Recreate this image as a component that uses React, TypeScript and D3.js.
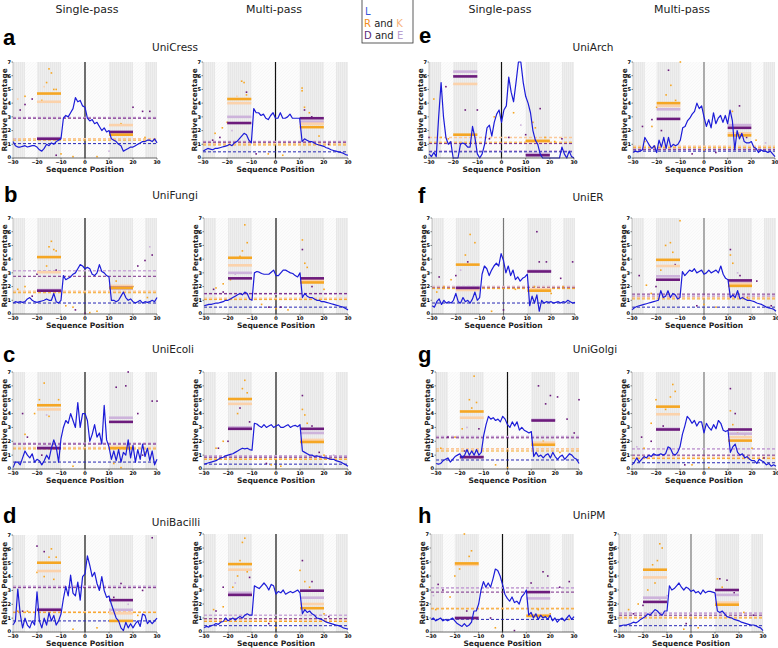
import React from 'react';
import * as d3 from 'd3';

// sequence positions and axes
const positions = d3.range(-30, 31);
const xTicks = [-30, -20, -10, 0, 10, 20, 30];
const yTicks = [0, 1, 2, 3, 4, 5, 6, 7];
const bands = [[-30, -25], [-20, -10], [10, 20], [25, 30]];
const columnHeads = ['Single-pass', 'Multi-pass', 'Single-pass', 'Multi-pass'];
const letters = ['a', 'b', 'c', 'd', 'e', 'f', 'g', 'h'];
const titles = ['UniCress', 'UniFungi', 'UniEcoli', 'UniBacilli', 'UniArch', 'UniER', 'UniGolgi', 'UniPM'];

// L (leucine) percentage per position, -30..30
const cressSingleL = [1.2,0.9,0.8,0.8,0.85,0.9,0.8,0.85,0.9,0.9,0.8,0.6,0.5,0.7,1.0,0.9,1.1,1.0,1.2,1.3,1.4,2.9,3.1,3.0,3.3,3.6,4.4,4.1,4.2,3.8,3.7,2.9,2.7,2.8,2.5,2.6,2.3,2.0,2.2,1.9,2.0,1.4,1.3,1.2,1.0,0.9,0.5,0.6,0.7,0.8,0.8,0.9,1.0,1.1,1.2,1.2,1.3,1.3,1.2,1.4,1.1];
const cressMultiL = [0.5,0.6,0.7,0.65,0.6,0.7,0.7,0.75,0.8,0.85,0.9,1.0,0.9,1.1,1.2,1.4,1.6,1.8,1.7,1.3,1.1,3.6,3.3,3.3,3.1,3.2,2.9,2.8,3.1,3.3,2.9,2.9,3.3,2.9,2.9,3.0,3.2,2.9,2.9,2.9,2.9,1.2,1.4,1.3,1.2,1.2,1.1,1.0,0.95,0.9,0.85,0.75,0.7,0.6,0.55,0.5,0.45,0.4,0.35,0.25,0.2];
const fungiSingleL = [0.8,0.9,0.85,0.9,0.85,0.9,1.1,1.2,1.0,0.9,0.85,0.9,0.95,1.0,1.1,1.0,1.0,1.5,0.9,0.8,1.0,2.8,2.5,2.6,2.7,2.9,3.0,3.3,3.6,3.5,3.3,3.4,3.3,2.9,2.8,3.0,3.6,3.1,3.0,2.8,2.7,1.0,1.0,0.9,1.0,1.3,1.6,1.2,1.0,1.1,0.9,0.8,0.9,1.0,0.8,0.9,0.85,0.9,1.0,0.9,1.2];
const fungiMultiL = [0.6,0.65,0.7,0.7,0.75,0.8,0.8,0.85,0.9,1.0,1.0,1.1,1.2,1.3,1.4,1.5,1.4,1.6,1.5,1.1,1.0,3.0,3.1,3.05,2.95,2.9,2.9,2.9,3.05,3.2,2.8,2.8,3.0,3.2,3.2,3.1,3.0,2.95,2.8,2.7,3.0,1.2,1.5,1.3,1.2,1.2,1.1,1.0,1.0,0.9,0.9,0.85,0.8,0.75,0.7,0.65,0.6,0.55,0.5,0.4,0.3];
const ecoliSingleL = [0.1,0.5,0.5,0.3,0.8,1.3,1.0,0.8,1.1,0.5,0.7,0.6,0.3,0.6,1.0,0.7,1.5,2.1,1.6,0.5,2.2,3.0,3.5,3.3,4.0,3.5,3.0,4.8,3.0,4.0,4.0,3.5,2.0,2.5,3.2,2.3,2.6,1.8,4.6,2.1,1.6,0.7,1.3,0.6,1.4,0.5,1.2,1.0,2.1,0.8,1.7,0.5,1.4,0.7,1.8,0.9,1.5,0.6,1.3,0.3,0.7];
const ecoliMultiL = [0.35,0.4,0.45,0.5,0.55,0.6,0.7,0.8,0.85,0.95,1.0,1.05,1.1,1.2,1.3,1.4,1.5,1.45,1.5,1.4,1.35,3.3,3.25,3.1,3.0,3.2,3.0,3.1,3.2,3.0,3.1,3.2,3.0,3.0,3.1,3.2,3.0,3.1,3.15,3.05,3.2,1.3,1.2,1.1,1.0,1.0,0.9,0.95,0.9,0.85,0.8,0.8,0.75,0.7,0.7,0.6,0.55,0.5,0.4,0.3,0.2];
const bacilliSingleL = [0.5,0.8,3.1,1.3,0.3,1.0,0.5,0.3,0.8,0.5,2.9,0.8,0.3,1.0,0.5,1.4,0.8,1.2,0.5,0.8,1.3,2.4,3.3,2.6,4.1,2.8,2.6,3.6,2.3,4.0,4.2,5.5,4.8,4.0,4.3,3.5,3.0,4.0,3.0,2.5,2.6,2.0,1.5,1.0,0.8,0.3,0.1,0.7,0.3,0.6,0.3,0.6,0.8,0.4,1.3,1.2,0.6,0.8,0.6,0.8,1.0];
const bacilliMultiL = [0.3,0.4,0.35,0.45,0.5,0.6,0.55,0.7,0.75,1.0,0.8,0.9,1.0,0.85,1.0,1.1,1.0,1.2,1.3,1.2,1.2,3.3,3.2,3.1,3.3,3.5,3.3,3.0,3.4,3.3,2.7,2.9,2.8,3.0,2.7,2.8,2.9,2.8,2.9,3.0,2.8,1.3,1.6,1.4,1.5,1.3,1.2,1.0,0.95,0.9,0.8,0.7,0.65,0.6,0.55,0.5,0.45,0.4,0.3,0.25,0.2];
const archSingleL = [0.3,0.1,0.4,0.1,3.0,5.5,3.0,1.5,1.0,1.2,0,0,0,1.0,1.1,1.0,0.8,0.8,2.3,1.5,0.3,0,0.3,1.0,2.2,2.4,1.6,2.6,3.2,3.5,2.6,3.5,3.8,5.9,4.8,4.1,5.5,7.0,7.0,5.5,4.5,4.0,3.3,2.0,1.3,1.0,0.3,0,0,0,0,0,0,0,0,0.8,0.3,0,0.5,0.1,0];
const archMultiL = [0.4,0.5,0.45,0.5,0.6,1.5,1.2,0.9,0.7,0.9,0.4,1.3,0.8,1.5,0.7,1.5,0.8,1.0,0.9,1.0,1.3,2.2,2.3,2.7,2.9,3.2,3.4,4.0,3.6,3.8,3.0,2.3,2.8,2.2,3.3,2.5,2.9,3.1,2.6,3.1,2.5,3.5,2.7,0.6,2.0,1.4,1.8,1.2,1.1,1.1,1.2,0.8,0.7,0.4,0.6,0.5,0.5,0.4,0.5,0.3,0.1];
const erSingleL = [0.6,0.5,0.9,1.1,0.7,1.0,0.8,0.9,0.8,1.0,1.5,0.9,0.8,1.2,0.9,1.0,0.8,1.1,1.6,1.0,1.2,2.9,3.5,3.3,2.8,3.2,3.5,3.7,3.5,4.4,3.9,3.0,3.5,2.8,3.2,2.5,2.7,2.4,2.6,2.7,2.9,0.6,1.3,0.8,1.4,0.2,1.0,0.8,0.9,0.85,0.9,0.8,0.85,0.9,0.8,0.9,0.85,1.0,0.9,0.8,0.85];
const erMultiL = [0.3,0.45,0.55,0.6,0.65,0.7,0.75,0.8,0.85,0.9,0.95,1.0,1.7,1.2,1.3,1.7,1.2,1.5,1.4,1.1,1.2,3.1,2.8,3.0,3.2,3.1,3.3,3.0,3.1,3.2,2.9,3.0,3.2,3.0,3.1,3.2,3.0,3.5,2.9,2.6,2.5,1.2,1.4,1.2,1.7,1.1,1.2,1.1,1.0,1.0,0.95,0.9,0.8,0.75,0.7,0.6,0.5,0.45,0.4,0.35,0.2];
const golgiSingleL = [0.4,0.35,0.4,0.6,0.7,0.8,0.5,0.7,0.9,1.0,1.1,0.8,1.0,1.4,1.0,1.3,1.0,1.4,1.0,1.2,2.4,3.2,3.8,3.6,3.7,3.5,3.6,3.4,3.8,3.6,3.2,3.0,3.4,3.1,3.4,2.8,3.0,2.8,2.7,2.6,2.7,0.9,1.2,0.9,1.0,0.8,1.0,1.1,0.8,1.2,0.9,0.7,0.9,1.0,0.7,0.9,1.1,1.0,0.8,0.7,0.4];
const golgiMultiL = [0.3,0.5,0.8,0.5,0.7,0.9,0.8,1.0,0.9,1.1,1.0,1.0,1.1,1.0,1.1,1.6,1.5,1.1,1.0,1.2,1.6,2.5,3.1,3.8,3.6,3.3,3.5,3.1,3.4,3.4,2.6,3.3,3.0,2.8,3.2,2.9,3.5,3.3,2.8,2.7,2.8,1.2,1.6,1.8,1.2,1.0,1.1,0.8,0.9,0.7,0.6,0.6,0.4,0.7,0.6,0.5,0.3,0.4,0.2,0.3,0.2];
const pmSingleL = [0.9,1.0,0.8,0.9,1.0,0.8,0.9,0.8,0.9,1.0,0.8,0.6,0.5,0.4,0.6,0.4,0.5,0.7,1.5,1.5,2.0,3.0,3.6,3.2,3.5,3.2,3.8,4.5,4.4,4.0,3.4,2.7,2.4,2.2,2.5,2.1,2.2,2.0,2.5,2.7,3.0,1.2,1.4,1.0,1.3,0.9,1.2,1.0,1.1,0.9,1.2,0.8,1.0,0.7,0.9,1.0,0.8,1.0,1.2,0.9,1.1];
const pmMultiL = [0.4,0.45,0.5,0.5,0.55,0.6,0.7,0.65,0.75,0.9,1.0,1.1,1.3,1.2,1.4,1.6,1.5,1.3,1.2,1.5,1.5,3.3,3.0,3.1,3.3,3.5,3.2,3.0,3.2,3.1,2.9,3.0,2.8,2.9,2.7,3.0,2.8,2.9,2.9,2.85,2.8,1.5,1.4,1.5,1.3,1.1,1.05,1.0,0.9,0.85,0.8,0.7,0.65,0.6,0.55,0.5,0.5,0.45,0.35,0.3,0.1];

// region averages: R, K, D, E over -20..-10, then R, K, D, E over 10..20
const cressSingleSeg = [4.7, 4.1, 1.4, 1.45, 1.7, 2.4, 1.9, 1.85];
const cressMultiSeg = [4.3, 4.0, 2.55, 3.0, 2.25, 2.5, 2.9, 2.65];
const fungiSingleSeg = [4.15, 3.05, 1.7, 1.75, 1.9, 2.05, 1.9, 2.0];
const fungiMultiSeg = [4.1, 3.55, 2.6, 3.0, 2.3, 2.45, 2.6, 2.5];
const ecoliSingleSeg = [4.6, 4.3, 1.5, 1.6, 1.5, 1.6, 3.4, 3.7];
const ecoliMultiSeg = [5.05, 4.7, 2.9, 3.0, 1.95, 2.1, 2.9, 2.6];
const bacilliSingleSeg = [5.0, 4.4, 1.6, 1.65, 0.8, 1.35, 2.3, 1.6];
const bacilliMultiSeg = [4.85, 4.45, 2.65, 2.8, 1.7, 2.0, 2.95, 2.45];
const archSingleSeg = [1.7, 5.4, 5.95, 6.3, 1.25, 1.2, 0.2, 0.3];
const archMultiSeg = [4.0, 3.8, 2.85, 3.55, 1.65, 1.8, 2.2, 2.4];
const erSingleSeg = [3.6, 1.75, 1.9, 1.95, 1.7, 1.8, 3.1, 3.15];
const erMultiSeg = [3.95, 3.5, 2.5, 2.75, 2.05, 2.2, 2.45, 2.3];
const golgiSingleSeg = [4.15, 3.7, 0.85, 0.9, 1.75, 1.9, 3.5, 3.55];
const golgiMultiSeg = [4.5, 3.95, 2.85, 2.9, 2.05, 2.3, 2.85, 2.55];
const pmSingleSeg = [4.9, 4.8, 1.0, 1.0, 1.15, 1.2, 2.85, 2.4];
const pmMultiSeg = [4.45, 3.9, 2.15, 2.45, 1.95, 2.1, 3.0, 2.65];

// background averages: L, R, K, D, E
const cressSingleBase = [1.05, 1.3, 1.4, 2.9, 2.95];
const cressMultiBase = [0.45, 0.95, 1.05, 1.15, 1.2];
const fungiSingleBase = [0.8, 1.55, 1.65, 2.75, 3.15];
const fungiMultiBase = [0.5, 1.05, 1.15, 1.5, 1.45];
const ecoliSingleBase = [0.5, 1.45, 1.55, 1.8, 1.85];
const ecoliMultiBase = [0.35, 0.7, 0.75, 0.85, 0.95];
const bacilliSingleBase = [0.8, 1.4, 1.45, 3.2, 3.3];
const bacilliMultiBase = [0.45, 0.75, 0.85, 0.95, 1.2];
const archSingleBase = [0.45, 1.15, 1.5, 1.05, 0.5];
const archMultiBase = [0.5, 0.75, 0.85, 0.6, 0.65];
const erSingleBase = [0.8, 1.85, 1.95, 1.9, 2.0];
const erMultiBase = [0.5, 1.1, 1.2, 1.45, 1.3];
const golgiSingleBase = [0.65, 1.3, 1.45, 2.25, 2.35];
const golgiMultiBase = [0.45, 0.75, 0.85, 1.0, 1.45];
const pmSingleBase = [0.9, 1.65, 1.7, 2.85, 3.15];
const pmMultiBase = [0.45, 1.0, 1.05, 1.2, 1.35];

// single-position points: [position, percentage, residue 0=R 1=K 2=D 3=E]
const cressSingleDots = [[-15,6.5,0],[-14,6.2,0],[-16,5.5,0],[-13,5.0,0],[-17,5.2,1],[-12,5.0,0],[-18,4.2,0],[-28,4.3,1],[-25,4.5,0],[-10,0.3,0],[-5,0.1,0],[5,0.1,0],[15,2.5,0],[25,1.5,0],[-22,4.3,2],[-25,3.9,2],[-27,3.5,2],[20,3.7,2],[24,3.4,2],[27,3.4,2],[-12,0.2,2],[10,0.5,3],[-29,1.4,3]];
const cressMultiDots = [[-14,5.6,0],[-13,5.5,0],[-12,4.6,0],[-16,4.5,1],[11,5.1,0],[11,4.9,0],[12,3.7,0],[14,3.3,0],[-25,1.8,0],[-22,2.2,0],[-20,2.6,0],[18,1.6,0],[-3,0.3,0],[3,0.2,0],[-12,4.8,2],[12,3.5,2],[15,3.0,2],[-23,1.5,2],[-26,1.3,2],[22,1.0,2],[-8,0.3,2],[-18,2.0,3]];
const fungiSingleDots = [[-14,5.3,0],[-15,4.9,0],[-13,4.7,0],[-12,4.6,0],[-16,3.5,0],[-28,1.8,0],[-25,2.0,0],[-8,0.6,0],[-5,0.5,0],[2,0.1,0],[5,0.2,0],[13,2.4,0],[20,2.0,0],[26,1.2,0],[-12,3.2,2],[-20,2.9,2],[25,3.9,2],[28,4.3,2],[22,3.5,2],[-4,0.3,2],[0,0.05,2],[-22,1.3,2],[27,4.9,3]];
const fungiMultiDots = [[-13,6.5,0],[-12,5.2,0],[-14,4.6,0],[-15,4.2,0],[11,5.4,0],[12,3.7,0],[13,3.4,0],[-22,2.2,0],[-19,2.5,0],[-25,1.9,0],[-6,0.7,0],[0,0.4,0],[5,0.3,0],[20,1.8,0],[11,4.7,2],[-11,3.0,2],[-26,1.8,2],[-22,1.6,2],[15,2.0,2],[-3,0.5,2],[2,0.5,2],[-17,2.9,3]];
const ecoliSingleDots = [[-17,6.2,0],[-19,5.0,0],[-21,4.0,0],[-15,3.8,0],[-11,5.0,0],[-25,2.5,0],[-5,0.2,0],[15,0.1,0],[25,1.2,0],[12,0.4,0],[-26,4.0,2],[-24,2.3,2],[13,5.9,2],[17,6.0,2],[22,4.0,2],[28,4.9,2],[30,4.9,2],[18,7.0,2],[-18,1.0,2],[-22,1.0,2],[24,1.0,2],[-16,3.9,3]];
const ecoliMultiDots = [[-13,6.4,0],[-14,5.8,0],[-12,5.5,0],[-16,4.0,0],[-18,3.0,0],[11,4.3,0],[12,3.9,0],[13,3.3,0],[-22,2.0,0],[-25,1.5,0],[-2,0.3,0],[2,0.2,0],[20,1.0,0],[11,5.3,2],[-11,3.4,2],[-15,4.4,2],[-24,1.5,2],[-20,2.0,2],[15,3.1,2],[18,1.2,2],[-4,0.4,2],[24,1.0,3]];
const bacilliSingleDots = [[-14,6.0,0],[-15,5.4,0],[-12,5.4,0],[-20,4.3,0],[-17,4.0,0],[-13,3.8,0],[-28,1.5,0],[-24,1.5,0],[-5,0.2,0],[5,0.3,0],[15,0.8,0],[22,1.2,0],[-20,6.2,2],[-17,5.8,2],[28,6.8,2],[24,3.0,2],[12,2.5,2],[15,3.5,2],[-3,3.3,2],[-26,1.5,2],[18,2.0,3]];
const bacilliMultiDots = [[-13,6.7,0],[-14,6.4,0],[-15,5.1,0],[-16,4.0,0],[-12,4.3,0],[-18,3.2,0],[10,4.4,0],[12,3.6,0],[14,3.2,0],[-22,1.8,0],[-26,1.6,0],[0,0.3,0],[20,1.3,0],[11,5.1,2],[15,3.6,2],[-11,3.9,2],[-22,3.2,2],[-25,1.5,2],[-3,0.6,2],[22,1.1,2],[-17,3.5,3]];
const archSingleDots = [[-28,4.3,0],[-25,1.5,0],[-22,1.4,0],[5,3.3,0],[13,2.6,0],[14,2.2,0],[18,1.5,0],[22,1.2,0],[-3,3.0,0],[-23,5.2,2],[-10,3.5,2],[-15,3.5,2],[-5,1.4,2],[3,1.5,2],[16,3.6,2],[10,1.7,2],[25,1.4,2],[-30,1.5,2],[8,2.4,3]];
const archMultiDots = [[-20,3.7,0],[-16,4.6,0],[-14,5.3,0],[-12,4.2,0],[-10,7.0,0],[-22,2.3,0],[-25,1.2,0],[12,3.4,0],[15,1.5,0],[22,1.3,0],[0,0.6,0],[-15,6.4,2],[-22,2.8,2],[-26,2.3,2],[15,3.8,2],[-18,2.0,2],[18,1.5,2],[5,0.4,2],[-5,0.3,2],[26,1.1,3]];
const erSingleDots = [[-14,5.8,0],[-12,5.2,0],[-16,4.3,0],[-22,2.5,0],[-25,2.0,0],[-28,1.6,0],[5,1.8,0],[13,2.0,0],[20,1.5,0],[25,2.0,0],[-5,0.2,0],[14,6.0,2],[-15,3.8,2],[-27,2.7,2],[15,3.8,2],[18,3.8,2],[29,3.8,2],[-20,2.8,2],[24,2.6,2],[0,0.3,2],[-18,3.2,3]];
const erMultiDots = [[-10,6.8,0],[-14,5.2,0],[-16,5.0,0],[-13,4.5,0],[-18,3.2,0],[11,4.3,0],[12,3.7,0],[-24,2.1,0],[-22,1.5,0],[18,1.2,0],[0,0.7,0],[5,0.5,0],[11,4.7,2],[-12,3.6,2],[-27,2.8,2],[-20,2.0,2],[15,2.8,2],[22,2.4,2],[-3,0.6,2],[28,0.6,2],[14,3.0,3]];
const golgiSingleDots = [[-14,6.7,0],[-16,5.0,0],[-13,4.8,0],[-15,4.4,0],[-19,2.9,0],[-22,2.3,0],[-28,1.5,0],[15,2.0,0],[-5,0.3,0],[0,0.1,0],[22,1.2,0],[13,6.0,2],[18,5.3,2],[21,5.2,2],[30,5.0,2],[16,4.7,2],[-25,2.3,2],[-12,2.9,2],[25,3.6,2],[-18,1.3,2],[28,2.6,2],[-17,3.0,3]];
const golgiMultiDots = [[-13,6.1,0],[-12,5.6,0],[-14,5.2,0],[-16,4.3,0],[-20,5.0,0],[-22,3.3,0],[11,4.2,0],[12,3.2,0],[14,2.6,0],[-25,1.5,0],[2,0.1,0],[-5,0.3,0],[20,1.5,0],[11,5.8,2],[13,4.0,2],[-17,3.1,2],[-26,2.3,2],[-22,2.0,2],[17,2.5,2],[-8,0.3,2],[25,0.8,2],[-28,1.6,3]];
const pmSingleDots = [[-16,7.0,0],[-13,5.8,0],[-14,5.4,0],[-18,4.5,0],[-20,4.0,0],[-22,2.5,0],[-28,1.6,0],[-3,0.3,0],[15,1.6,0],[20,1.3,0],[28,0.9,0],[-27,3.4,2],[-25,3.0,2],[-15,1.5,2],[12,3.5,2],[17,4.3,2],[19,4.0,2],[24,3.2,2],[28,3.6,2],[-5,1.0,2],[5,0.1,2],[-29,2.6,3]];
const pmMultiDots = [[-13,6.3,0],[-12,6.0,0],[-14,5.1,0],[-16,4.8,0],[-15,3.5,0],[-18,3.0,0],[-22,2.0,0],[-26,1.6,0],[11,3.8,0],[13,3.2,0],[-3,0.2,0],[3,0.3,0],[22,1.4,0],[12,3.8,2],[15,3.7,2],[-13,2.4,2],[-20,1.9,2],[-24,1.3,2],[18,2.8,2],[-2,0.6,2],[26,1.2,2],[-10,2.6,3]];

const resColor = ['#f5a623', '#fbd2ab', '#6c1b7c', '#cdb3db'];
const baseColor = ['#2626b4', '#f5a623', '#fbc898', '#7b2b88', '#c9a8d8'];
const lineBlue = '#1c1cd8';

// panel boxes [x0, x1, yTop, yBottom] and zero line colour
const panels = [
  { box: [13, 157, 62, 158], zc: '#111', l: cressSingleL, seg: cressSingleSeg, base: cressSingleBase, dots: cressSingleDots },
  { box: [203, 348, 62, 158], zc: '#111', l: cressMultiL, seg: cressMultiSeg, base: cressMultiBase, dots: cressMultiDots },
  { box: [13, 157, 218, 314], zc: '#111', l: fungiSingleL, seg: fungiSingleSeg, base: fungiSingleBase, dots: fungiSingleDots },
  { box: [204, 348, 218, 314], zc: '#111', l: fungiMultiL, seg: fungiMultiSeg, base: fungiMultiBase, dots: fungiMultiDots },
  { box: [13, 157, 372, 469], zc: '#111', l: ecoliSingleL, seg: ecoliSingleSeg, base: ecoliSingleBase, dots: ecoliSingleDots },
  { box: [204, 348, 372, 469], zc: '#111', l: ecoliMultiL, seg: ecoliMultiSeg, base: ecoliMultiBase, dots: ecoliMultiDots },
  { box: [13, 157, 535, 632], zc: '#111', l: bacilliSingleL, seg: bacilliSingleSeg, base: bacilliSingleBase, dots: bacilliSingleDots },
  { box: [204, 348, 534, 632], zc: '#111', l: bacilliMultiL, seg: bacilliMultiSeg, base: bacilliMultiBase, dots: bacilliMultiDots },
  { box: [429, 574, 62, 158], zc: '#111', l: archSingleL, seg: archSingleSeg, base: archSingleBase, dots: archSingleDots },
  { box: [633, 775, 62, 158], zc: '#777', l: archMultiL, seg: archMultiSeg, base: archMultiBase, dots: archMultiDots },
  { box: [432, 575, 218, 314], zc: '#777', l: erSingleL, seg: erSingleSeg, base: erSingleBase, dots: erSingleDots },
  { box: [632, 776, 218, 314], zc: '#777', l: erMultiL, seg: erMultiSeg, base: erMultiBase, dots: erMultiDots },
  { box: [436, 579, 372, 469], zc: '#111', l: golgiSingleL, seg: golgiSingleSeg, base: golgiSingleBase, dots: golgiSingleDots },
  { box: [632, 776, 372, 469], zc: '#777', l: golgiMultiL, seg: golgiMultiSeg, base: golgiMultiBase, dots: golgiMultiDots },
  { box: [431, 574, 534, 632], zc: '#111', l: pmSingleL, seg: pmSingleSeg, base: pmSingleBase, dots: pmSingleDots },
  { box: [619, 763, 534, 632], zc: '#777', l: pmMultiL, seg: pmMultiSeg, base: pmMultiBase, dots: pmMultiDots },
];

// letter x/y, title centre x/y
const rowText = [
  [3, 45, 175, 51], [4, 202, 175, 199], [3, 362, 173, 353], [3, 523, 176, 526],
  [419, 43, 593, 51], [418, 203, 588, 201], [418, 362, 595, 353], [418, 523, 589, 519],
];
const headX = [87, 274, 500, 682];

const font = 'DejaVu Sans, sans-serif';

const Panel = ({ p }: { p: any }) => {
  const [x0, x1, yT, yB] = p.box;
  const x = d3.scaleLinear().domain([-30, 30]).range([x0, x1]);
  const y = d3.scaleLinear().domain([0, 7]).range([yB, yT]);
  const line = d3.line<number>().x((_, i) => x(positions[i])).y((d) => y(d));
  const order = [3, 1, 2, 0];
  return (
    <g>
      <rect x={x0} y={yT} width={x1 - x0} height={yB - yT} fill="url(#bgHatch)" />
      {bands.map((b, i) => (
        <rect key={i} x={x(b[0])} y={yT} width={x(b[1]) - x(b[0])} height={yB - yT} fill="url(#bandHatch)" />
      ))}
      <line x1={x(0)} x2={x(0)} y1={yT} y2={yB} stroke={p.zc} strokeWidth={1.2} />
      {[4, 2, 3, 1, 0].map((k) => (
        <line key={k} x1={x0} x2={x1} y1={y(p.base[k])} y2={y(p.base[k])}
          stroke={baseColor[k]} strokeWidth={k === 2 || k === 4 ? 1.6 : 1} strokeDasharray="3,2" />
      ))}
      {p.dots.map((d: number[], i: number) => (
        <rect key={i} x={x(d[0]) - 0.8} y={y(d[1]) - 0.8} width={1.6} height={1.6} fill={resColor[d[2]]} />
      ))}
      {order.map((k) => (
        <g key={k}>
          <line x1={x(-20)} x2={x(-10)} y1={y(p.seg[k])} y2={y(p.seg[k])} stroke={resColor[k]} strokeWidth={2.6} />
          <line x1={x(10)} x2={x(20)} y1={y(p.seg[4 + k])} y2={y(p.seg[4 + k])} stroke={resColor[k]} strokeWidth={2.6} />
        </g>
      ))}
      <path d={line(p.l) || ''} fill="none" stroke={lineBlue} strokeWidth={1.2} strokeLinejoin="round" />
      <line x1={x0} x2={x1} y1={yB} y2={yB} stroke="#444" strokeWidth={0.8} />
      <line x1={x0} x2={x0} y1={yT} y2={yB} stroke="#888" strokeWidth={0.5} />
      {xTicks.map((t) => (
        <g key={t}>
          <line x1={x(t)} x2={x(t)} y1={yB} y2={yB + 1.5} stroke="#333" strokeWidth={0.6} />
          <text x={x(t)} y={yB + 6} fontSize={5} fontWeight="bold" textAnchor="middle" fontFamily={font}>{t === 0 ? '0' : (t < 0 ? '\u2212' + -t : t)}</text>
        </g>
      ))}
      {yTicks.map((t) => (
        <g key={t}>
          <line x1={x0 - 1.5} x2={x0} y1={y(t)} y2={y(t)} stroke="#333" strokeWidth={0.6} />
          <text x={x0 - 2} y={y(t) + (t === 0 ? 0.5 : 1.8)} fontSize={5} fontWeight="bold" textAnchor="end" fontFamily={font}>{t}</text>
        </g>
      ))}
      <text x={(x0 + x1) / 2} y={yB + 14} fontSize={7.5} fontWeight="bold" textAnchor="middle" fontFamily={font} fill="#222">Sequence Position</text>
      <text transform={`translate(${x0 - 6},${(yT + yB) / 2}) rotate(-90)`} fontSize={7.3} fontWeight="bold" textAnchor="middle" fontFamily={font} fill="#222">Relative Percentage</text>
    </g>
  );
};

const App = () => {
  return (
    <svg width={778} height={648} style={{ position: 'absolute', left: 0, top: 0, background: '#fff' }}>
      <defs>
        <pattern id="bandHatch" width="2" height="2" patternUnits="userSpaceOnUse">
          <rect width="2" height="2" fill="#eeeeee" />
          <line x1="0.5" y1="0" x2="0.5" y2="2" stroke="#e2e2e2" strokeWidth="0.6" />
        </pattern>
        <pattern id="bgHatch" width="3" height="3" patternUnits="userSpaceOnUse">
          <rect width="3" height="3" fill="#fcfcfc" />
          <line x1="0" y1="3" x2="3" y2="0" stroke="#f3f3f3" strokeWidth="0.6" />
        </pattern>
      </defs>
      <rect width={778} height={648} fill="#fff" />
      {columnHeads.map((h, i) => (
        <text key={i} x={headX[i]} y={13} fontSize={11} textAnchor="middle" fontFamily={font} fill="#222">{h}</text>
      ))}
      <rect x={362} y={-1} width={51} height={44} fill="#fff" stroke="#333" strokeWidth={0.8} />
      <text x={365} y={15} fontSize={10} fontFamily={font} fill="#3a55d8">L</text>
      <text x={364} y={27} fontSize={10} fontFamily={font}>
        <tspan fill="#f08c1c">R</tspan><tspan fill="#222"> and </tspan><tspan fill="#f7b37a">K</tspan>
      </text>
      <text x={364} y={39} fontSize={10} fontFamily={font}>
        <tspan fill="#5a2a7a">D</tspan><tspan fill="#222"> and </tspan><tspan fill="#b9a0d0">E</tspan>
      </text>
      {rowText.map((r, i) => (
        <g key={i}>
          <text x={r[0]} y={r[1]} fontSize={22} fontWeight="bold" fontFamily="Liberation Sans, Arial, sans-serif">{letters[i]}</text>
          <text x={r[2]} y={r[3]} fontSize={10.5} textAnchor="middle" fontFamily={font} fill="#222">{titles[i]}</text>
        </g>
      ))}
      {panels.map((p, i) => <Panel key={i} p={p} />)}
    </svg>
  );
};

export default App;
